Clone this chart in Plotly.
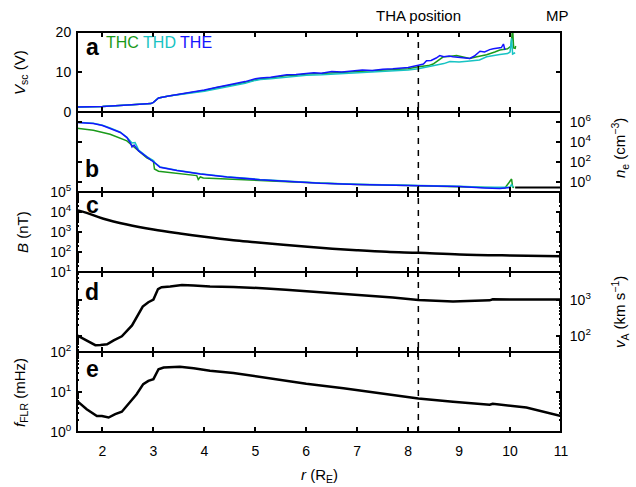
import plotly.graph_objects as go
from plotly.subplots import make_subplots

FONT = "Arial, Liberation Sans, Helvetica, sans-serif"
GREEN = "#1a9a1a"
CYAN = "#17c3c3"
BLUE = "#1414ff"

THA_R = 8.2
X_TICKS = [2, 3, 4, 5, 6, 7, 8, 9, 10, 11]

# ---- Panel a: spacecraft potential (V)
r_vsc_the = [1.5, 2.0, 2.5, 2.95, 3.0, 3.05, 3.1, 3.3, 3.6, 3.8, 4.0, 4.25, 4.5, 4.65, 4.8, 5.0, 5.1, 5.3,
             5.5, 5.62, 5.8, 6.0, 6.15, 6.3, 6.5, 6.7, 6.9, 7.1, 7.3, 7.5, 7.7, 7.85, 8.0, 8.2, 8.3, 8.36,
             8.45, 8.55, 8.62, 8.7, 8.8, 8.88, 9.0, 9.1, 9.21, 9.3, 9.41, 9.5, 9.6, 9.67, 9.75, 9.83, 9.87, 9.9]
vsc_the = [1.25, 1.4, 1.75, 2.1, 2.4, 2.9, 3.5, 4.0, 4.6, 5.1, 5.5, 6.2, 6.8, 7.2, 7.6, 8.3, 8.5, 8.7,
           9.1, 9.3, 9.4, 9.7, 9.8, 9.7, 10.1, 10.0, 10.3, 10.5, 10.4, 10.7, 10.8, 11.0, 11.1, 11.7, 12.0, 12.8,
           12.9, 13.5, 14.1, 13.8, 14.0, 13.8, 13.6, 13.5, 13.4, 14.0, 15.2, 15.0, 15.6, 15.8, 15.9, 16.1, 17.0, 15.5]

r_vsc_thc = [1.5, 2.0, 2.5, 2.95, 3.0, 3.05, 3.1, 3.3, 3.6, 3.8, 4.0, 4.25, 4.5, 4.65, 4.8, 5.0, 5.1, 5.3,
             5.5, 5.62, 5.8, 6.0, 6.3, 6.6, 6.9, 7.2, 7.5, 7.8, 8.0, 8.2, 8.4, 8.49, 8.6, 8.69, 8.8, 8.95,
             9.1, 9.21, 9.35, 9.54, 9.7, 9.8, 9.95, 10.02, 10.05, 10.07, 10.1, 10.11]
vsc_thc = [1.25, 1.4, 1.75, 2.1, 2.4, 2.9, 3.5, 4.0, 4.6, 5.0, 5.4, 6.1, 6.6, 7.0, 7.4, 8.1, 8.3, 8.5,
           8.9, 9.1, 9.2, 9.5, 9.6, 9.8, 10.0, 10.2, 10.4, 10.6, 10.8, 11.3, 11.6, 12.0, 13.0, 13.8, 13.9, 14.1,
           13.7, 13.4, 13.8, 14.3, 15.0, 15.5, 15.8, 16.5, 21.0, 16.0, 15.9, 16.5]

r_vsc_thd = [1.5, 2.0, 2.5, 2.95, 3.0, 3.05, 3.1, 3.3, 3.6, 3.8, 4.0, 4.25, 4.5, 4.65, 4.8, 5.0, 5.1, 5.3,
             5.5, 5.62, 5.8, 6.0, 6.3, 6.6, 6.9, 7.2, 7.5, 7.8, 8.0, 8.2, 8.5, 8.7, 8.82, 9.0, 9.21, 9.4,
             9.54, 9.7, 9.8, 9.95, 10.0, 10.03, 10.05, 10.1]
vsc_thd = [1.25, 1.4, 1.75, 2.1, 2.4, 2.9, 3.5, 4.0, 4.5, 4.9, 5.2, 5.8, 6.4, 6.8, 7.2, 7.9, 8.1, 8.3,
           8.6, 8.8, 8.9, 9.2, 9.3, 9.5, 9.7, 9.9, 10.1, 10.3, 10.5, 10.8, 11.5, 12.1, 12.6, 12.5, 12.75, 13.0,
           13.8, 14.2, 14.4, 14.6, 15.0, 18.4, 14.5, 14.8]

# ---- Panel b: electron density (cm^-3)
r_ne_the = [1.5, 1.82, 2.0, 2.15, 2.35, 2.48, 2.55, 2.58, 2.62, 2.71, 2.87, 3.0, 3.03, 3.13, 3.46, 3.92,
            4.44, 5.09, 5.75, 6.27, 7.0, 8.0, 8.5, 9.0, 9.5, 9.8, 10.0]
ne_the = [9.1e5, 7.2e5, 4.5e5, 2.4e5, 8.9e4, 2.8e4, 7.9e3, 3.2e3, 5.0e3, 1.3e3, 320, 126, 79, 30, 14, 6.3,
          3.2, 1.7, 1.0, 0.74, 0.56, 0.45, 0.40, 0.35, 0.25, 0.22, 0.28]

r_ne_thd = [1.5, 1.82, 2.0, 2.15, 2.35, 2.48, 2.58, 2.64, 2.71, 2.87, 3.0, 3.03, 3.13, 3.46, 3.92,
            4.44, 5.09, 5.75, 6.27, 7.0, 8.0, 8.5, 9.0, 9.5, 9.8, 10.0, 10.03, 10.06]
ne_thd = [9.5e5, 7.5e5, 4.8e5, 2.6e5, 9.5e4, 3.0e4, 7.9e3, 8.7e3, 1.6e3, 350, 140, 85, 32, 15, 6.8,
          3.4, 1.8, 1.1, 0.8, 0.6, 0.5, 0.45, 0.38, 0.3, 0.28, 0.3, 0.6, 0.3]

r_ne_thc = [1.5, 1.82, 2.15, 2.48, 2.67, 2.87, 3.0, 3.02, 3.1, 3.46, 3.85, 3.88, 3.92, 3.98, 4.44, 5.09,
            5.75, 6.27, 7.0, 8.0, 9.0, 9.5, 9.9, 10.03, 10.05, 10.08]
ne_thc = [2.4e5, 1.5e5, 6.0e4, 1.3e4, 1.9e3, 260, 123, 20, 12, 6.9, 4.4, 1.8, 3.2, 2.5, 2.1, 1.45,
          1.0, 0.74, 0.56, 0.45, 0.35, 0.28, 0.25, 2.0, 0.32, 0.28]

r_ne_model = [10.1, 11.0]
ne_model = [0.28, 0.28]

# ---- Panel c: magnetic field (nT)
r_b = [1.5, 1.69, 2.02, 2.48, 3.0, 3.52, 4.0, 4.57, 5.0, 5.55, 6.27, 6.99, 7.58, 8.2, 9.01, 10.0, 11.0]
b_nt = [12300, 9100, 4600, 2370, 1330, 840, 575, 390, 310, 230, 162, 123, 102, 91, 75, 67, 62]

# ---- Panel d: Alfven speed (km/s)
r_va = [1.5, 1.66, 1.86, 1.96, 2.09, 2.22, 2.38, 2.58, 2.79, 2.9, 3.0, 3.09, 3.16, 3.33, 3.56, 3.79,
        4.11, 4.57, 4.96, 5.22, 5.6, 6.0, 6.4, 7.05, 7.7, 8.2, 8.88, 9.6, 9.66, 10.32, 11.0]
va_kms = [105, 79, 56, 57, 59, 76, 98, 195, 646, 851, 1010, 1950, 2190, 2290, 2510, 2450,
          2290, 2240, 2140, 2040, 1860, 1700, 1580, 1350, 1150, 977, 891, 955, 1020, 1010, 1010]

# ---- Panel e: field line resonance frequency (mHz)
r_f = [1.5, 1.69, 1.89, 1.99, 2.12, 2.25, 2.38, 2.54, 2.67, 2.8, 2.9, 3.0, 3.1, 3.2, 3.52, 3.79,
       4.11, 4.57, 4.96, 5.35, 6.0, 6.73, 7.38, 8.2, 8.88, 9.6, 9.66, 10.32, 11.0]
f_mhz = [6.0, 3.7, 2.5, 2.5, 2.3, 2.8, 3.2, 5.5, 8.8, 15.7, 19, 21, 37, 41, 43, 39,
         34, 30, 25, 21, 16, 12.4, 9.5, 6.9, 5.7, 4.8, 5.1, 4.1, 2.5]

fig = make_subplots(rows=5, cols=1, vertical_spacing=0)

for rr, vv, col in [(r_vsc_thc, vsc_thc, GREEN), (r_vsc_thd, vsc_thd, CYAN), (r_vsc_the, vsc_the, BLUE)]:
    fig.add_trace(go.Scatter(x=rr, y=vv, mode="lines", line=dict(color=col, width=1.5)), row=1, col=1)
for rr, vv, col in [(r_ne_thc, ne_thc, GREEN), (r_ne_thd, ne_thd, CYAN), (r_ne_the, ne_the, BLUE)]:
    fig.add_trace(go.Scatter(x=rr, y=vv, mode="lines", line=dict(color=col, width=1.5)), row=2, col=1)
fig.add_trace(go.Scatter(x=r_ne_model, y=ne_model, mode="lines", line=dict(color="black", width=2)), row=2, col=1)
fig.add_trace(go.Scatter(x=r_b, y=b_nt, mode="lines", line=dict(color="black", width=2.5, shape="spline")), row=3, col=1)
fig.add_trace(go.Scatter(x=r_va, y=va_kms, mode="lines", line=dict(color="black", width=2.5)), row=4, col=1)
fig.add_trace(go.Scatter(x=r_f, y=f_mhz, mode="lines", line=dict(color="black", width=2.5)), row=5, col=1)

tickfont = dict(family=FONT, size=14, color="black")
common = dict(showline=True, linewidth=1, linecolor="black", mirror="ticks", ticks="inside",
              ticklen=5, tickwidth=1.5, tickcolor="black", showgrid=False, zeroline=False,
              tickfont=tickfont, automargin=False)


def sup(k):
    return "10<sup>%d</sup>" % k


def minor_vals(lo, hi):
    return [m * 10 ** k for k in range(lo, hi) for m in range(2, 10)]


for i in range(1, 6):
    fig.update_xaxes(range=[1.5, 11], tickvals=X_TICKS + [THA_R],
                     ticktext=[str(t) for t in X_TICKS] + [""],
                     showticklabels=(i == 5), ticklabelstandoff=(6 if i == 5 else 0),
                     row=i, col=1, **common)

fig.update_yaxes(range=[0, 20], tickvals=[0, 10, 20], ticktext=["0", "10", "20"],
                 ticklabelstandoff=2, row=1, col=1, **common)
fig.update_yaxes(type="log", range=[-1, 7], tickvals=[1, 1e2, 1e4, 1e6],
                 ticktext=[sup(0), sup(2), sup(4), sup(6)], side="right", ticklabelstandoff=5,
                 row=2, col=1, **common)
fig.update_yaxes(type="log", range=[1, 5], tickvals=[1e1, 1e2, 1e3, 1e4, 1e5],
                 ticktext=[sup(1), sup(2), sup(3), sup(4), sup(5)], ticklabelstandoff=2,
                 minor=dict(ticks="inside", ticklen=2, tickcolor="black", tickvals=minor_vals(1, 5)),
                 row=3, col=1, **common)
fig.update_yaxes(type="log", range=[1.56, 3.76], tickvals=[1e2, 1e3], ticktext=[sup(2), sup(3)],
                 side="right", ticklabelstandoff=5,
                 minor=dict(ticks="inside", ticklen=2, tickcolor="black", tickvals=minor_vals(1, 4)),
                 row=4, col=1, **common)
fig.update_yaxes(type="log", range=[0, 2], tickvals=[1, 10, 100], ticktext=[sup(0), sup(1), sup(2)],
                 ticklabelstandoff=2,
                 minor=dict(ticks="inside", ticklen=2, tickcolor="black", tickvals=minor_vals(0, 2)),
                 row=5, col=1, **common)

fig.add_shape(type="line", xref="x5", yref="paper", x0=THA_R, x1=THA_R, y0=0, y1=1,
              line=dict(color="black", width=1.5, dash="6px,6px"))
fig.add_shape(type="rect", xref="paper", yref="paper", x0=0, x1=1, y0=0, y1=1,
              line=dict(color="black", width=2), fillcolor="rgba(0,0,0,0)")

ann = []
for letter, yp in [("a", 0.9625), ("b", 0.6575), ("c", 0.5675), ("d", 0.35), ("e", 0.1575)]:
    ann.append(dict(text="<b>%s</b>" % letter, xref="paper", yref="paper", x=0.031, y=yp,
                    xanchor="center", yanchor="middle", showarrow=False,
                    font=dict(family=FONT, size=23, color="black")))
ann.append(dict(text='<span style="color:%s">THC</span> <span style="color:%s">THD</span> '
                     '<span style="color:%s">THE</span>' % (GREEN, CYAN, BLUE),
                xref="paper", yref="paper", x=0.0558, y=0.9725, xanchor="left", yanchor="middle",
                showarrow=False, font=dict(family=FONT, size=16)))
ann.append(dict(text="THA position", xref="x5", yref="paper", x=THA_R, y=1.04, xanchor="center",
                yanchor="middle", showarrow=False, font=dict(family=FONT, size=15, color="black")))
ann.append(dict(text="MP", xref="paper", yref="paper", x=0.9928, y=1.04, xanchor="center",
                yanchor="middle", showarrow=False, font=dict(family=FONT, size=15, color="black")))
for txt, xp, yp in [("<i>V</i><sub>sc</sub> (V)", -0.1178, 0.9),
                    ("<i>B</i> (nT)", -0.1136, 0.5),
                    ("<i>f</i><sub>FLR</sub> (mHz)", -0.1178, 0.1),
                    ("<i>n</i><sub>e</sub> (cm<sup>−3</sup>)", 1.12, 0.71),
                    ("<i>v</i><sub>A</sub> (km s<sup>−1</sup>)", 1.12, 0.3)]:
    ann.append(dict(text=txt, xref="paper", yref="paper", x=xp, y=yp, xanchor="center",
                    yanchor="middle", textangle=-90, showarrow=False,
                    font=dict(family=FONT, size=15, color="black")))
ann.append(dict(text="<i>r</i> (R<sub>E</sub>)", xref="paper", yref="paper", x=0.5, y=-0.108,
                xanchor="center", yanchor="middle", showarrow=False,
                font=dict(family=FONT, size=15, color="black")))

fig.update_layout(width=636, height=487, margin=dict(l=77, r=75, t=32, b=55),
                  plot_bgcolor="white", paper_bgcolor="white", showlegend=False,
                  annotations=ann, font=dict(family=FONT, color="black"))

fig.write_html("out.html", config={"displayModeBar": False},
               post_script="document.body.style.margin='0px';")
